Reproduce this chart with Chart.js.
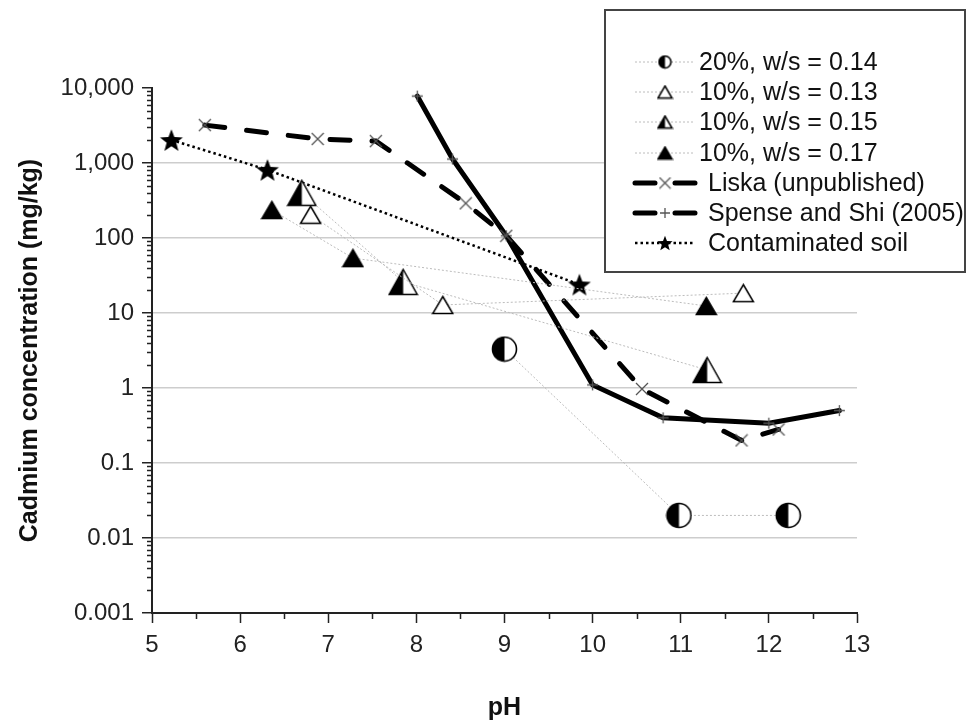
<!DOCTYPE html>
<html>
<head>
<meta charset="utf-8">
<script src="https://cdn.jsdelivr.net/npm/chart.js@4/dist/chart.umd.min.js"></script>
<style>
	body { margin: 0; background: #fff; }
	canvas { display: block; }
</style>
</head>
<body>
<canvas id="cdChart" width="967" height="724"></canvas>
<script>
// pH / cadmium readings, one pair of arrays per series
var phCircle14 = [9.0, 10.98, 12.22];
var cdCircle14 = [3.3, 0.02, 0.02];
var phOpen13 = [6.8, 8.3, 11.71];
var cdOpen13 = [204, 12.8, 18.4];
var phHalf15 = [6.7, 7.85, 11.3];
var cdHalf15 = [400, 26, 1.74];
var phFilled17 = [6.36, 7.28, 11.29];
var cdFilled17 = [236, 54, 12.4];
var phLiska = [5.6, 6.88, 7.54, 8.56, 9.02, 10.56, 11.69, 12.11];
var cdLiska = [3200, 2090, 1960, 290, 107, 0.97, 0.2, 0.28];
var phSpense = [8.01, 8.41, 9.02, 10.0, 10.8, 12.0, 12.8];
var cdSpense = [7800, 1130, 107, 1.1, 0.4, 0.34, 0.5];
var phSoil = [5.22, 6.31, 9.85];
var cdSoil = [2030, 810, 24];

var seriesLabels = ['20%, w/s = 0.14', '10%, w/s = 0.13', '10%, w/s = 0.15', '10%, w/s = 0.17',
	'Liska (unpublished)', 'Spense and Shi (2005)', 'Contaminated soil'];
var yTickValues = [0.001, 0.01, 0.1, 1, 10, 100, 1000, 10000];
var yTickLabels = ['0.001', '0.01', '0.1', '1', '10', '100', '1,000', '10,000'];

var fontFamily = '"Liberation Sans", Arial, sans-serif';

function pairUp(xs, ys){
	var out = [];
	for(var i = 0; i < xs.length; i++){
		out.push({x: xs[i], y: ys[i]});
	}
	return out;
}

function makeMarker(w, h, drawFn){
	var c = document.createElement('canvas');
	c.width = w;
	c.height = h;
	drawFn(c.getContext('2d'), w, h);
	return c;
}

function halfCircle(size){
	return makeMarker(size + 3, size + 3, function(g, w, h){
		var r = size / 2, cx = w / 2, cy = h / 2;
		g.fillStyle = '#fff';
		g.beginPath(); g.arc(cx, cy, r, 0, Math.PI * 2); g.fill();
		g.fillStyle = '#000';
		g.beginPath(); g.arc(cx, cy, r, Math.PI / 2, Math.PI * 1.5); g.closePath(); g.fill();
		g.strokeStyle = '#000';
		g.lineWidth = 1.6;
		g.beginPath(); g.arc(cx, cy, r, 0, Math.PI * 2); g.stroke();
	});
}

function triangle(tw, th, kind){
	return makeMarker(tw + 3, th + 3, function(g, w, h){
		var l = 1.5, r = w - 1.5, t = 1.5, b = h - 1.5, m = w / 2;
		g.beginPath(); g.moveTo(m, t); g.lineTo(r, b); g.lineTo(l, b); g.closePath();
		g.fillStyle = kind == 'filled' ? '#000' : '#fff';
		g.fill();
		if(kind == 'half'){
			g.fillStyle = '#000';
			g.beginPath(); g.moveTo(m, t); g.lineTo(m, b); g.lineTo(l, b); g.closePath(); g.fill();
		}
		g.strokeStyle = '#000';
		g.lineWidth = 1.5;
		g.beginPath(); g.moveTo(m, t); g.lineTo(r, b); g.lineTo(l, b); g.closePath(); g.stroke();
	});
}

function star(outer){
	return makeMarker(outer * 2 + 2, outer * 2 + 2, function(g, w, h){
		var cx = w / 2, cy = h / 2 + outer * 0.1, inner = outer * 0.42;
		g.fillStyle = '#000';
		g.beginPath();
		for(var i = 0; i < 10; i++){
			var rad = i % 2 == 0 ? outer : inner;
			var a = -Math.PI / 2 + i * Math.PI / 5;
			if(i == 0) g.moveTo(cx + rad * Math.cos(a), cy + rad * Math.sin(a));
			else g.lineTo(cx + rad * Math.cos(a), cy + rad * Math.sin(a));
		}
		g.closePath();
		g.fill();
	});
}

function crossMark(size, rotated){
	return makeMarker(size + 2, size + 2, function(g, w, h){
		var c = w / 2, r = size / 2;
		g.strokeStyle = '#555';
		g.lineWidth = 1.3;
		g.beginPath();
		if(rotated){
			g.moveTo(c - r, c - r); g.lineTo(c + r, c + r);
			g.moveTo(c + r, c - r); g.lineTo(c - r, c + r);
		}else{
			g.moveTo(c - r, c); g.lineTo(c + r, c);
			g.moveTo(c, c - r); g.lineTo(c, c + r);
		}
		g.stroke();
	});
}

var plotMarks = [halfCircle(24), triangle(20, 17, 'open'), triangle(28, 25, 'half'), triangle(20, 17, 'filled'),
	crossMark(12, true), crossMark(11, false), star(12)];
var legendMarks = [halfCircle(12), triangle(14, 12, 'open'), triangle(14, 12, 'half'), triangle(14, 12, 'filled'),
	crossMark(11, true), crossMark(10, false), star(8)];

var thinGray = {borderColor: '#bcbcbc', borderWidth: 1, borderDash: [2, 2]};

var datasets = [
	Object.assign({label: seriesLabels[0], data: pairUp(phCircle14, cdCircle14)}, thinGray),
	Object.assign({label: seriesLabels[1], data: pairUp(phOpen13, cdOpen13)}, thinGray),
	Object.assign({label: seriesLabels[2], data: pairUp(phHalf15, cdHalf15)}, thinGray),
	Object.assign({label: seriesLabels[3], data: pairUp(phFilled17, cdFilled17)}, thinGray),
	{label: seriesLabels[4], data: pairUp(phLiska, cdLiska), borderColor: '#000', borderWidth: 5, borderDash: [20, 22], borderCapStyle: 'round'},
	{label: seriesLabels[5], data: pairUp(phSpense, cdSpense), borderColor: '#000', borderWidth: 5, borderCapStyle: 'round'},
	{label: seriesLabels[6], data: pairUp(phSoil, cdSoil), borderColor: '#000', borderWidth: 2.5, borderDash: [2.5, 3]}
];
datasets.forEach(function(ds, i){
	ds.pointStyle = plotMarks[i];
	ds.pointRadius = 6;
	ds.tension = 0;
	ds.fill = false;
});

// small ticks between the labelled ones
var minorTicks = {
	id: 'minorTicks',
	afterDraw: function(chart){
		var ctx = chart.ctx, x = chart.scales.x, y = chart.scales.y;
		ctx.save();
		ctx.strokeStyle = '#222';
		ctx.lineWidth = 1.5;
		ctx.beginPath();
		for(var d = 0; d < yTickValues.length - 1; d++){
			for(var m = 2; m < 10; m++){
				var py = Math.round(y.getPixelForValue(yTickValues[d] * m)) + 0.5;
				ctx.moveTo(chart.chartArea.left - 5, py);
				ctx.lineTo(chart.chartArea.left, py);
			}
		}
		for(var v = 5.5; v < 13; v++){
			var px = Math.round(x.getPixelForValue(v)) + 0.5;
			ctx.moveTo(px, chart.chartArea.bottom);
			ctx.lineTo(px, chart.chartArea.bottom + 6);
		}
		ctx.stroke();
		ctx.restore();
	}
};

var boxLegend = {
	id: 'boxLegend',
	afterDraw: function(chart){
		var ctx = chart.ctx;
		ctx.save();
		ctx.fillStyle = '#fff';
		ctx.fillRect(605, 10, 360, 262);
		ctx.strokeStyle = '#444';
		ctx.lineWidth = 2;
		ctx.strokeRect(605, 10, 360, 262);
		ctx.font = '25px ' + fontFamily;
		ctx.textBaseline = 'middle';
		chart.data.datasets.forEach(function(ds, i){
			var yy = Math.round(62 + i * 30.2);
			ctx.strokeStyle = ds.borderColor;
			ctx.lineWidth = ds.borderWidth;
			ctx.beginPath();
			if(i == 4 || i == 5){
				ctx.setLineDash([]);
				ctx.lineCap = 'round';
				ctx.moveTo(635, yy); ctx.lineTo(655, yy);
				ctx.moveTo(675, yy); ctx.lineTo(695, yy);
			}else{
				ctx.setLineDash(ds.borderDash || []);
				ctx.lineCap = 'butt';
				ctx.moveTo(635, yy); ctx.lineTo(694, yy);
			}
			ctx.stroke();
			var mk = legendMarks[i];
			ctx.drawImage(mk, 665 - mk.width / 2, yy - mk.height / 2);
			ctx.fillStyle = '#111';
			ctx.fillText(ds.label, i < 4 ? 699 : 708, yy + 1);
		});
		ctx.restore();
	}
};

var tickFont = {family: fontFamily, size: 24};
var titleFont = {family: fontFamily, size: 25, weight: 'bold'};

var cdChart = new Chart(document.getElementById('cdChart'), {
	type: 'line',
	data: {datasets: datasets},
	options: {
		responsive: false,
		animation: false,
		layout: {padding: {top: 88, right: 110, left: 0, bottom: 0}},
		plugins: {legend: {display: false}, tooltip: {enabled: false}},
		scales: {
			x: {
				type: 'linear',
				min: 5,
				max: 13,
				afterFit: function(s){ s.height = 111; },
				ticks: {stepSize: 1, color: '#222', font: tickFont, padding: 8, maxRotation: 0},
				grid: {drawOnChartArea: false, tickLength: 10, tickColor: '#222', tickWidth: 1.5},
				border: {color: '#222', width: 2},
				title: {display: true, text: 'pH', color: '#111', font: titleFont, padding: {top: 0, bottom: 1}}
			},
			y: {
				type: 'logarithmic',
				min: 0.001,
				max: 10000,
				afterFit: function(s){ s.width = 152; },
				afterBuildTicks: function(s){
					s.ticks = yTickValues.map(function(v){ return {value: v}; });
				},
				ticks: {
					color: '#222',
					font: tickFont,
					padding: 8,
					callback: function(value, index){ return yTickLabels[index]; }
				},
				grid: {
					tickLength: 10,
					tickColor: '#222',
					tickWidth: 1.5,
					lineWidth: 1.5,
					color: function(c){
						if(c.tick && (c.tick.value == 10000 || c.tick.value == 0.001)) return 'rgba(0,0,0,0)';
						return '#cdcdcd';
					}
				},
				border: {color: '#222', width: 2},
				title: {display: true, text: 'Cadmium concentration (mg/kg)', color: '#111', font: titleFont, padding: {top: 15, bottom: 0}}
			}
		}
	},
	plugins: [minorTicks, boxLegend]
});
</script>
</body>
</html>
